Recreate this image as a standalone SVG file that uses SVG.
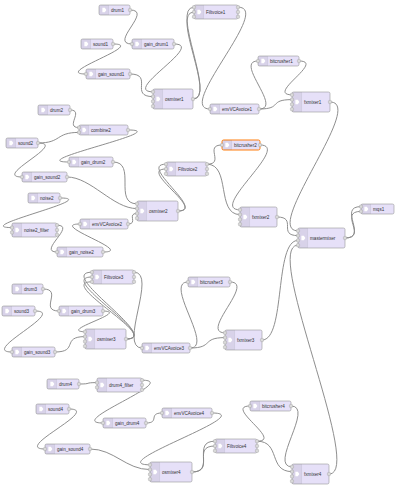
<svg xmlns="http://www.w3.org/2000/svg" xmlns:xlink="http://www.w3.org/1999/xlink" width="400" height="491" viewBox="0 0 400 491">
<style>
.n{fill:#E6E0F8;stroke:#999;stroke-width:0.6}
.sel{stroke:#ff7f0e;stroke-width:1}
.shade{fill:#000;fill-opacity:0.06}
.shb{stroke:#000;stroke-opacity:0.1;stroke-width:0.6}
.ico{fill:#fff}
.p{fill:#d9d9d9;stroke:#999;stroke-width:0.4}
.t{font-family:"Liberation Sans",Arial,sans-serif;font-size:4.6px;fill:#333}
#links path{fill:none;stroke:#888;stroke-width:0.95}
</style>
<defs>
<rect id="p" class="p" x="-1.6" y="-1.6" width="3.2" height="3.2" rx="1"/>
<g id="i10"><path class="shade" d="M1.6,0H9.6V10H1.6A1.6,1.6 0 0 1 0,8.4V1.6A1.6,1.6 0 0 1 1.6,0Z"/><line class="shb" x1="9.6" y1="0.3" x2="9.6" y2="9.7"/><path class="ico" d="M3.4,2.8H5.8L7.4,5L5.8,7.2H3.4Z"/></g>
<g id="i14"><path class="shade" d="M1.6,0H9.6V14H1.6A1.6,1.6 0 0 1 0,12.4V1.6A1.6,1.6 0 0 1 1.6,0Z"/><line class="shb" x1="9.6" y1="0.3" x2="9.6" y2="13.7"/><path class="ico" d="M3.4,4.8H5.8L7.4,7L5.8,9.2H3.4Z"/></g>
<g id="i20"><path class="shade" d="M1.6,0H9.6V20H1.6A1.6,1.6 0 0 1 0,18.4V1.6A1.6,1.6 0 0 1 1.6,0Z"/><line class="shb" x1="9.6" y1="0.3" x2="9.6" y2="19.7"/><path class="ico" d="M3.4,7.8H5.8L7.4,10L5.8,12.2H3.4Z"/></g>
</defs>
<rect width="400" height="491" fill="#fff"/>
<g id="links">
<path d="M130,10 C154,10 108,44 132,44"/>
<path d="M113,44 C147.8,44 51.2,74 86,74"/>
<path d="M174,44 C206.4,44 120.6,91.8 153,91.8"/>
<path d="M130,74 C154,74 129,96.6 153,96.6"/>
<path d="M193,99 C217,99 170,7.2 194,7.2"/>
<path d="M193,99 C217,99 170,12 194,12"/>
<path d="M238,7.2 C273.2,7.2 174.8,109 210,109"/>
<path d="M259,109 C283.4,109 233.6,61 258,61"/>
<path d="M259,109 C283,109 268,99.6 292,99.6"/>
<path d="M299,61 C325.8,61 265.2,94.8 292,94.8"/>
<path d="M330,102 C366.8,102 261.2,230.8 298,230.8"/>
<path d="M70,110 C84.8,110 64.2,127.6 79,127.6"/>
<path d="M38,143 C62,143 55,132.4 79,132.4"/>
<path d="M38,143 C68.4,143 -8.4,177 22,177"/>
<path d="M128,130 C175.6,130 21.4,162 69,162"/>
<path d="M113,162 C137,162 113,203.8 137,203.8"/>
<path d="M67,177 C91,177 113,208.6 137,208.6"/>
<path d="M60,198 C103.2,198 -31.2,227.6 12,227.6"/>
<path d="M57,225.2 C77.1,225.2 36.9,252 57,252"/>
<path d="M103,252 C136.2,252 46.8,224 80,224"/>
<path d="M128,224 C138.4,224 126.6,213.4 137,213.4"/>
<path d="M178,211 C206.8,211 137.2,164.2 166,164.2"/>
<path d="M178,211 C206.8,211 137.2,169 166,169"/>
<path d="M207,164.2 C225.3,164.2 203.7,145 222,145"/>
<path d="M207,164.2 C231,164.2 216,214.6 240,214.6"/>
<path d="M260,145 C292,145 208,209.8 240,209.8"/>
<path d="M277,217 C298,217 277,235.6 298,235.6"/>
<path d="M345,238 C369,238 337,206.6 361,206.6"/>
<path d="M345,238 C368.3,238 337.7,211.4 361,211.4"/>
<path d="M43,289 C63.4,289 38.6,311 59,311"/>
<path d="M35,311 C68.2,311 -21.2,352 12,352"/>
<path d="M103,311 C130.8,311.8 57.2,331 85,331.8"/>
<path d="M55,352 C79,352 61,336.6 85,336.6"/>
<path d="M126,339 C163.6,339 54.4,272.2 92,272.2"/>
<path d="M126,339 C163.6,339 54.4,277 92,277"/>
<path d="M126,339 C163.6,339 54.4,281.8 92,281.8"/>
<path d="M134,272.2 C158,272.2 118,348 142,348"/>
<path d="M190,348 C214.8,348 163.2,282 188,282"/>
<path d="M190,348 C214,348 201,337.6 225,337.6"/>
<path d="M230,282 C256,282 199,332.8 225,332.8"/>
<path d="M262,340 C286,340 274,240.4 298,240.4"/>
<path d="M79,384 C92.5,384 83.5,382.6 97,382.6"/>
<path d="M142,380.2 C181.6,380.2 63.4,423 103,423"/>
<path d="M69,409 C102.6,409 11.4,449 45,449"/>
<path d="M146,423 C160.2,423 147.8,413 162,413"/>
<path d="M212,413 C260.8,413 101.2,464.8 150,464.8"/>
<path d="M90,449 C114,449 126,469.6 150,469.6"/>
<path d="M192,472 C216,472 191,441.2 215,441.2"/>
<path d="M192,472 C216,472 191,446 215,446"/>
<path d="M257,441.2 C283.8,441.2 223.2,406 250,406"/>
<path d="M257,441.2 C281,441.2 268,471.6 292,471.6"/>
<path d="M291,406 C315,406 268,466.8 292,466.8"/>
<path d="M329,474 C365.4,474 261.6,245.2 298,245.2"/>
</g>
<g id="drum1" transform="translate(99,5)"><rect class="n" width="31" height="10" rx="1.6"/><use href="#i10"/><text class="t" x="12" y="6.6">drum1</text><use href="#p" x="31" y="5"/></g>
<g id="sound1" transform="translate(81,39)"><rect class="n" width="32" height="10" rx="1.6"/><use href="#i10"/><text class="t" x="12" y="6.6">sound1</text><use href="#p" x="32" y="5"/></g>
<g id="gain_drum1" transform="translate(132,39)"><rect class="n" width="42" height="10" rx="1.6"/><use href="#i10"/><text class="t" x="12" y="6.6">gain_drum1</text><use href="#p" x="0" y="5"/><use href="#p" x="42" y="5"/></g>
<g id="gain_sound1" transform="translate(86,69)"><rect class="n" width="44" height="10" rx="1.6"/><use href="#i10"/><text class="t" x="12" y="6.6">gain_sound1</text><use href="#p" x="0" y="5"/><use href="#p" x="44" y="5"/></g>
<g id="osmixer1" transform="translate(153,89)"><rect class="n" width="40" height="20" rx="1.6"/><use href="#i20"/><text class="t" x="12" y="11.6">osmixer1</text><use href="#p" x="0" y="2.8"/><use href="#p" x="0" y="7.6"/><use href="#p" x="0" y="12.4"/><use href="#p" x="0" y="17.2"/><use href="#p" x="40" y="10"/></g>
<g id="Filtvoice1" transform="translate(194,5)"><rect class="n" width="44" height="14" rx="1.6"/><use href="#i14"/><text class="t" x="12" y="8.6">Filtvoice1</text><use href="#p" x="0" y="2.2"/><use href="#p" x="0" y="7"/><use href="#p" x="0" y="11.8"/><use href="#p" x="44" y="2.2"/><use href="#p" x="44" y="7"/><use href="#p" x="44" y="11.8"/></g>
<g id="envVCAvoice1" transform="translate(210,104)"><rect class="n" width="49" height="10" rx="1.6"/><use href="#i10"/><text class="t" x="12" y="6.6">envVCAvoice1</text><use href="#p" x="0" y="5"/><use href="#p" x="49" y="5"/></g>
<g id="bitcrusher1" transform="translate(258,56)"><rect class="n" width="41" height="10" rx="1.6"/><use href="#i10"/><text class="t" x="12" y="6.6">bitcrusher1</text><use href="#p" x="0" y="5"/><use href="#p" x="41" y="5"/></g>
<g id="fxmixer1" transform="translate(292,92)"><rect class="n" width="38" height="20" rx="1.6"/><use href="#i20"/><text class="t" x="12" y="11.6">fxmixer1</text><use href="#p" x="0" y="2.8"/><use href="#p" x="0" y="7.6"/><use href="#p" x="0" y="12.4"/><use href="#p" x="0" y="17.2"/><use href="#p" x="38" y="10"/></g>
<g id="drum2" transform="translate(38,105)"><rect class="n" width="32" height="10" rx="1.6"/><use href="#i10"/><text class="t" x="12" y="6.6">drum2</text><use href="#p" x="32" y="5"/></g>
<g id="combine2" transform="translate(79,125)"><rect class="n" width="49" height="10" rx="1.6"/><use href="#i10"/><text class="t" x="12" y="6.6">combine2</text><use href="#p" x="0" y="2.6"/><use href="#p" x="0" y="7.4"/><use href="#p" x="49" y="5"/></g>
<g id="sound2" transform="translate(6,138)"><rect class="n" width="32" height="10" rx="1.6"/><use href="#i10"/><text class="t" x="12" y="6.6">sound2</text><use href="#p" x="32" y="5"/></g>
<g id="gain_drum2" transform="translate(69,157)"><rect class="n" width="44" height="10" rx="1.6"/><use href="#i10"/><text class="t" x="12" y="6.6">gain_drum2</text><use href="#p" x="0" y="5"/><use href="#p" x="44" y="5"/></g>
<g id="gain_sound2" transform="translate(22,172)"><rect class="n" width="45" height="10" rx="1.6"/><use href="#i10"/><text class="t" x="12" y="6.6">gain_sound2</text><use href="#p" x="0" y="5"/><use href="#p" x="45" y="5"/></g>
<g id="noise2" transform="translate(28,193)"><rect class="n" width="32" height="10" rx="1.6"/><use href="#i10"/><text class="t" x="12" y="6.6">noise2</text><use href="#p" x="32" y="5"/></g>
<g id="noise2_filter" transform="translate(12,223)"><rect class="n" width="45" height="14" rx="1.6"/><use href="#i14"/><text class="t" x="12" y="8.6">noise2_filter</text><use href="#p" x="0" y="4.6"/><use href="#p" x="0" y="9.4"/><use href="#p" x="45" y="2.2"/><use href="#p" x="45" y="7"/><use href="#p" x="45" y="11.8"/></g>
<g id="envVCAvoice2" transform="translate(80,219)"><rect class="n" width="48" height="10" rx="1.6"/><use href="#i10"/><text class="t" x="12" y="6.6">envVCAvoice2</text><use href="#p" x="0" y="5"/><use href="#p" x="48" y="5"/></g>
<g id="gain_noise2" transform="translate(57,247)"><rect class="n" width="46" height="10" rx="1.6"/><use href="#i10"/><text class="t" x="12" y="6.6">gain_noise2</text><use href="#p" x="0" y="5"/><use href="#p" x="46" y="5"/></g>
<g id="osmixer2" transform="translate(137,201)"><rect class="n" width="41" height="20" rx="1.6"/><use href="#i20"/><text class="t" x="12" y="11.6">osmixer2</text><use href="#p" x="0" y="2.8"/><use href="#p" x="0" y="7.6"/><use href="#p" x="0" y="12.4"/><use href="#p" x="0" y="17.2"/><use href="#p" x="41" y="10"/></g>
<g id="Filtvoice2" transform="translate(166,162)"><rect class="n" width="41" height="14" rx="1.6"/><use href="#i14"/><text class="t" x="12" y="8.6">Filtvoice2</text><use href="#p" x="0" y="2.2"/><use href="#p" x="0" y="7"/><use href="#p" x="0" y="11.8"/><use href="#p" x="41" y="2.2"/><use href="#p" x="41" y="7"/><use href="#p" x="41" y="11.8"/></g>
<g id="bitcrusher2" transform="translate(222,140)"><rect class="n sel" width="38" height="10" rx="1.6"/><use href="#i10"/><text class="t" x="12" y="6.6">bitcrusher2</text><use href="#p" x="0" y="5"/><use href="#p" x="38" y="5"/></g>
<g id="fxmixer2" transform="translate(240,207)"><rect class="n" width="37" height="20" rx="1.6"/><use href="#i20"/><text class="t" x="12" y="11.6">fxmixer2</text><use href="#p" x="0" y="2.8"/><use href="#p" x="0" y="7.6"/><use href="#p" x="0" y="12.4"/><use href="#p" x="0" y="17.2"/><use href="#p" x="37" y="10"/></g>
<g id="mastermixer" transform="translate(298,228)"><rect class="n" width="47" height="20" rx="1.6"/><use href="#i20"/><text class="t" x="12" y="11.6">mastermixer</text><use href="#p" x="0" y="2.8"/><use href="#p" x="0" y="7.6"/><use href="#p" x="0" y="12.4"/><use href="#p" x="0" y="17.2"/><use href="#p" x="47" y="10"/></g>
<g id="mqs1" transform="translate(361,204)"><rect class="n" width="33" height="10" rx="1.6"/><use href="#i10"/><text class="t" x="12" y="6.6">mqs1</text><use href="#p" x="0" y="2.6"/><use href="#p" x="0" y="7.4"/></g>
<g id="Filtvoice3" transform="translate(92,270)"><rect class="n" width="42" height="14" rx="1.6"/><use href="#i14"/><text class="t" x="12" y="8.6">Filtvoice3</text><use href="#p" x="0" y="2.2"/><use href="#p" x="0" y="7"/><use href="#p" x="0" y="11.8"/><use href="#p" x="42" y="2.2"/><use href="#p" x="42" y="7"/><use href="#p" x="42" y="11.8"/></g>
<g id="drum3" transform="translate(12,284)"><rect class="n" width="31" height="10" rx="1.6"/><use href="#i10"/><text class="t" x="12" y="6.6">drum3</text><use href="#p" x="31" y="5"/></g>
<g id="sound3" transform="translate(2,306)"><rect class="n" width="33" height="10" rx="1.6"/><use href="#i10"/><text class="t" x="12" y="6.6">sound3</text><use href="#p" x="33" y="5"/></g>
<g id="gain_drum3" transform="translate(59,306)"><rect class="n" width="44" height="10" rx="1.6"/><use href="#i10"/><text class="t" x="12" y="6.6">gain_drum3</text><use href="#p" x="0" y="5"/><use href="#p" x="44" y="5"/></g>
<g id="osmixer3" transform="translate(85,329)"><rect class="n" width="41" height="20" rx="1.6"/><use href="#i20"/><text class="t" x="12" y="11.6">osmixer3</text><use href="#p" x="0" y="2.8"/><use href="#p" x="0" y="7.6"/><use href="#p" x="0" y="12.4"/><use href="#p" x="0" y="17.2"/><use href="#p" x="41" y="10"/></g>
<g id="gain_sound3" transform="translate(12,347)"><rect class="n" width="43" height="10" rx="1.6"/><use href="#i10"/><text class="t" x="12" y="6.6">gain_sound3</text><use href="#p" x="0" y="5"/><use href="#p" x="43" y="5"/></g>
<g id="bitcrusher3" transform="translate(188,277)"><rect class="n" width="42" height="10" rx="1.6"/><use href="#i10"/><text class="t" x="12" y="6.6">bitcrusher3</text><use href="#p" x="0" y="5"/><use href="#p" x="42" y="5"/></g>
<g id="envVCAvoice3" transform="translate(142,343)"><rect class="n" width="48" height="10" rx="1.6"/><use href="#i10"/><text class="t" x="12" y="6.6">envVCAvoice3</text><use href="#p" x="0" y="5"/><use href="#p" x="48" y="5"/></g>
<g id="fxmixer3" transform="translate(225,330)"><rect class="n" width="37" height="20" rx="1.6"/><use href="#i20"/><text class="t" x="12" y="11.6">fxmixer3</text><use href="#p" x="0" y="2.8"/><use href="#p" x="0" y="7.6"/><use href="#p" x="0" y="12.4"/><use href="#p" x="0" y="17.2"/><use href="#p" x="37" y="10"/></g>
<g id="drum4" transform="translate(47,379)"><rect class="n" width="32" height="10" rx="1.6"/><use href="#i10"/><text class="t" x="12" y="6.6">drum4</text><use href="#p" x="32" y="5"/></g>
<g id="drum4_filter" transform="translate(97,378)"><rect class="n" width="45" height="14" rx="1.6"/><use href="#i14"/><text class="t" x="12" y="8.6">drum4_filter</text><use href="#p" x="0" y="4.6"/><use href="#p" x="0" y="9.4"/><use href="#p" x="45" y="2.2"/><use href="#p" x="45" y="7"/><use href="#p" x="45" y="11.8"/></g>
<g id="sound4" transform="translate(36,404)"><rect class="n" width="33" height="10" rx="1.6"/><use href="#i10"/><text class="t" x="12" y="6.6">sound4</text><use href="#p" x="33" y="5"/></g>
<g id="gain_drum4" transform="translate(103,418)"><rect class="n" width="43" height="10" rx="1.6"/><use href="#i10"/><text class="t" x="12" y="6.6">gain_drum4</text><use href="#p" x="0" y="5"/><use href="#p" x="43" y="5"/></g>
<g id="gain_sound4" transform="translate(45,444)"><rect class="n" width="45" height="10" rx="1.6"/><use href="#i10"/><text class="t" x="12" y="6.6">gain_sound4</text><use href="#p" x="0" y="5"/><use href="#p" x="45" y="5"/></g>
<g id="envVCAvoice4" transform="translate(162,408)"><rect class="n" width="50" height="10" rx="1.6"/><use href="#i10"/><text class="t" x="12" y="6.6">envVCAvoice4</text><use href="#p" x="0" y="5"/><use href="#p" x="50" y="5"/></g>
<g id="Filtvoice4" transform="translate(215,439)"><rect class="n" width="42" height="14" rx="1.6"/><use href="#i14"/><text class="t" x="12" y="8.6">Filtvoice4</text><use href="#p" x="0" y="2.2"/><use href="#p" x="0" y="7"/><use href="#p" x="0" y="11.8"/><use href="#p" x="42" y="2.2"/><use href="#p" x="42" y="7"/><use href="#p" x="42" y="11.8"/></g>
<g id="osmixer4" transform="translate(150,462)"><rect class="n" width="42" height="20" rx="1.6"/><use href="#i20"/><text class="t" x="12" y="11.6">osmixer4</text><use href="#p" x="0" y="2.8"/><use href="#p" x="0" y="7.6"/><use href="#p" x="0" y="12.4"/><use href="#p" x="0" y="17.2"/><use href="#p" x="42" y="10"/></g>
<g id="bitcrusher4" transform="translate(250,401)"><rect class="n" width="41" height="10" rx="1.6"/><use href="#i10"/><text class="t" x="12" y="6.6">bitcrusher4</text><use href="#p" x="0" y="5"/><use href="#p" x="41" y="5"/></g>
<g id="fxmixer4" transform="translate(292,464)"><rect class="n" width="37" height="20" rx="1.6"/><use href="#i20"/><text class="t" x="12" y="11.6">fxmixer4</text><use href="#p" x="0" y="2.8"/><use href="#p" x="0" y="7.6"/><use href="#p" x="0" y="12.4"/><use href="#p" x="0" y="17.2"/><use href="#p" x="37" y="10"/></g>
</svg>
